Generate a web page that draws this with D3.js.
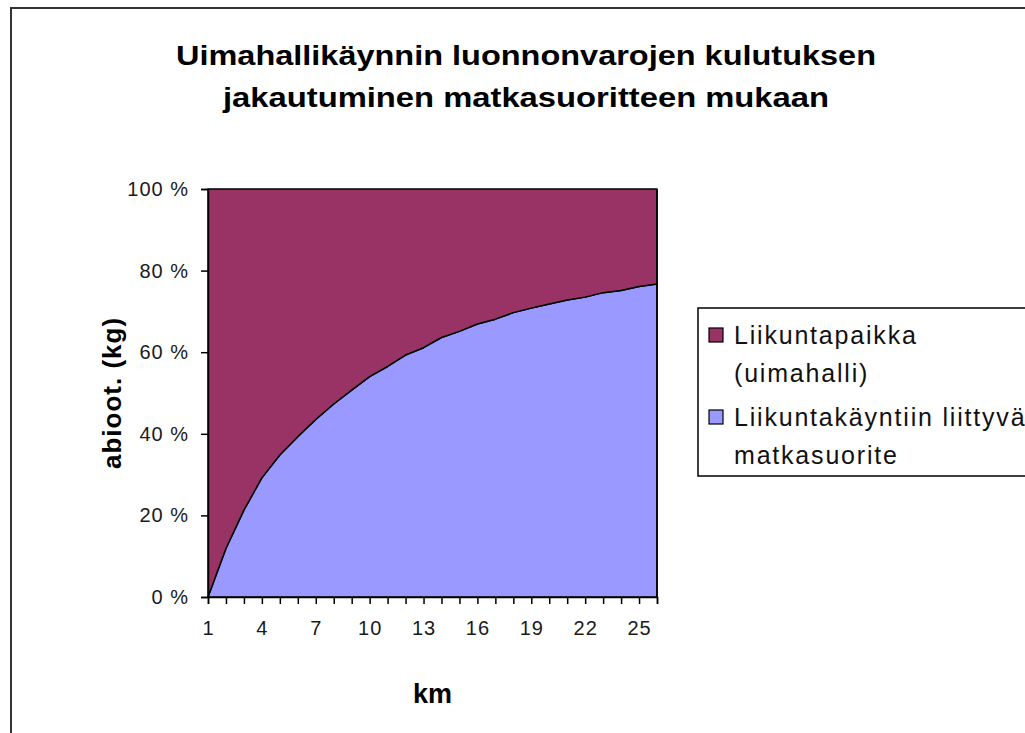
<!DOCTYPE html>
<html lang="fi">
<head>
    <meta charset="UTF-8">
    <title>Uimahallikäynti</title>
    <script src="https://cdnjs.cloudflare.com/ajax/libs/d3/7.8.5/d3.min.js"></script>
    <style>
        body { margin: 0; background: #fff; }
        svg { display: block; font-family: "Liberation Sans", Arial, sans-serif; }
    </style>
</head>
<body>
    <svg width="1025" height="733"></svg>

    <script>
        // km along the x axis
        const km = d3.range(1, 27);
        // share of travel (bottom, blue) and sports venue (top, maroon), percent
        const matkasuorite = [0, 11.9, 21.3, 29.2, 34.8, 39.3, 43.5, 47.3, 50.7, 54.0, 56.5, 59.3, 61.1,
            63.6, 65.1, 66.9, 68.1, 69.7, 70.8, 71.8, 72.8, 73.5, 74.6, 75.1, 76.1, 76.7];
        const liikuntapaikka = [100, 88.1, 78.7, 70.8, 65.2, 60.7, 56.5, 52.7, 49.3, 46.0, 43.5, 40.7, 38.9,
            36.4, 34.9, 33.1, 31.9, 30.3, 29.2, 28.2, 27.2, 26.5, 25.4, 24.9, 23.9, 23.3];
        const yTicks = [0, 20, 40, 60, 80, 100];
        const xLabels = [1, 4, 7, 10, 13, 16, 19, 22, 25];
        const seriesNames = ['Liikuntapaikka', 'Liikuntakäyntiin liittyvä matkasuorite'];
        const colors = ['#993366', '#9999ff'];

        const svg = d3.select('svg');
        const plotLeft = 208, plotRight = 657, plotTop = 189, plotBottom = 597;

        // outer frame (runs past the right and bottom edge)
        svg.append('rect')
            .attr('x', 11).attr('y', 8)
            .attr('width', 1030).attr('height', 740)
            .attr('fill', 'none').attr('stroke', '#333').attr('stroke-width', 2);

        svg.append('text')
            .attr('text-anchor', 'middle')
            .attr('font-weight', 'bold').attr('font-size', 28)
            .selectAll('tspan')
            .data(['Uimahallikäynnin luonnonvarojen kulutuksen', 'jakautuminen matkasuoritteen mukaan'])
            .enter().append('tspan')
            .attr('x', 526)
            .attr('y', (d, i) => 65 + i * 42)
            .attr('textLength', (d, i) => i === 0 ? 700 : 606)
            .attr('lengthAdjust', 'spacingAndGlyphs')
            .text(d => d);

        const x = d3.scaleLinear().domain([1, 26]).range([plotLeft, plotRight]);
        const y = d3.scaleLinear().domain([0, 100]).range([plotBottom, plotTop]);

        const rows = km.map((k, i) => ({ km: k, matka: matkasuorite[i], paikka: liikuntapaikka[i] }));
        const layers = d3.stack().keys(['matka', 'paikka'])(rows);

        const area = d3.area()
            .x(d => x(d.data.km))
            .y0(d => y(d[0]))
            .y1(d => y(d[1]));

        svg.selectAll('path.layer')
            .data(layers).enter().append('path')
            .classed('layer', true)
            .attr('d', area)
            .attr('fill', (d, i) => i === 0 ? colors[1] : colors[0])
            .attr('stroke', '#000')
            .attr('stroke-width', 1.5)
            .attr('stroke-linejoin', 'round');

        // y axis
        const yAxis = svg.append('g')
            .attr('transform', `translate(${plotLeft},0)`)
            .call(d3.axisLeft(y).tickValues(yTicks).tickSize(7).tickPadding(12)
                .tickFormat(d => d + ' %'));
        yAxis.select('.domain').attr('stroke', '#000').attr('stroke-width', 1.5);
        yAxis.selectAll('.tick line').attr('stroke', '#000').attr('stroke-width', 1.5);
        yAxis.selectAll('text')
            .attr('font-size', 20).attr('fill', '#1a1a1a')
            .attr('letter-spacing', 1)
            .attr('font-family', '"Liberation Sans", Arial, sans-serif');

        // x axis
        const xAxis = svg.append('g')
            .attr('transform', `translate(0,${plotBottom})`)
            .call(d3.axisBottom(x).tickValues(km).tickSize(7).tickPadding(17)
                .tickFormat(d => xLabels.includes(d) ? d : ''));
        xAxis.select('.domain').attr('stroke', '#000').attr('stroke-width', 1.5);
        xAxis.selectAll('.tick line').attr('stroke', '#000').attr('stroke-width', 1.5);
        xAxis.selectAll('text')
            .attr('font-size', 20).attr('fill', '#1a1a1a')
            .attr('letter-spacing', 1)
            .attr('font-family', '"Liberation Sans", Arial, sans-serif');

        // right edge of the plot
        svg.append('line')
            .attr('x1', plotRight).attr('x2', plotRight)
            .attr('y1', plotTop).attr('y2', plotBottom)
            .attr('stroke', '#000').attr('stroke-width', 1.5);

        svg.append('text')
            .attr('x', (plotLeft + plotRight) / 2).attr('y', 703)
            .attr('text-anchor', 'middle')
            .attr('font-weight', 'bold').attr('font-size', 27)
            .text('km');

        svg.append('text')
            .attr('transform', `translate(121,${(plotTop + plotBottom) / 2}) rotate(-90)`)
            .attr('text-anchor', 'middle')
            .attr('font-weight', 'bold').attr('font-size', 26)
            .attr('letter-spacing', 1)
            .text('abioot. (kg)');

        // legend
        const legend = svg.append('g');
        legend.append('rect')
            .attr('x', 698).attr('y', 308)
            .attr('width', 400).attr('height', 168)
            .attr('fill', '#fff').attr('stroke', '#000').attr('stroke-width', 1.5);

        const legendLines = [['Liikuntapaikka', '(uimahalli)'], ['Liikuntakäyntiin liittyvä', 'matkasuorite']];
        const item = legend.selectAll('g.item')
            .data(seriesNames).enter().append('g')
            .classed('item', true)
            .attr('transform', (d, i) => `translate(0,${i * 82})`);
        item.append('rect')
            .attr('x', 709).attr('y', 328)
            .attr('width', 14).attr('height', 14)
            .attr('fill', (d, i) => colors[i])
            .attr('stroke', '#000').attr('stroke-width', 1.2);
        item.append('text')
            .attr('font-size', 25).attr('fill', '#111')
            .attr('letter-spacing', 1.8)
            .selectAll('tspan')
            .data((d, i) => legendLines[i])
            .enter().append('tspan')
            .attr('x', 734)
            .attr('y', (d, j) => 344 + j * 38)
            .text(d => d);
    </script>
</body>
</html>
